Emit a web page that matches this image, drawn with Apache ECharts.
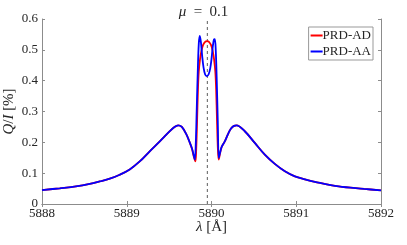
<!DOCTYPE html>
<html><head><meta charset="utf-8">
<script src="https://cdn.jsdelivr.net/npm/echarts@6/dist/echarts.min.js"></script>
<style>html,body{margin:0;padding:0;background:#fff}#c{width:407px;height:245px}</style>
</head><body><div id="c"></div>
<script>
var lineCenter = 5889.95;
var xTicks = [5888, 5889, 5890, 5891, 5892];
var yTicks = [0, 0.1, 0.2, 0.3, 0.4, 0.5, 0.6];

var lamAA = [5888.0,5888.209,5888.4,5888.563,5888.681,5888.8,5888.917,5889.035,5889.153,5889.271,5889.39,5889.508,5889.56,5889.606,5889.65,5889.705,5889.744,5889.77,5889.79,5889.803,5889.815,5889.825,5889.838,5889.85,5889.862,5889.875,5889.89,5889.905,5889.925,5889.945,5889.965,5889.985,5890.0,5890.015,5890.028,5890.039,5890.05,5890.062,5890.074,5890.086,5890.1,5890.12,5890.157,5890.23,5890.295,5890.393,5890.511,5890.629,5890.747,5890.866,5890.984,5891.102,5891.22,5891.5,5891.8,5892.0];
var valAA = [0.045,0.051,0.057,0.065,0.073,0.082,0.095,0.112,0.138,0.171,0.203,0.236,0.249,0.255,0.250,0.225,0.199,0.180,0.158,0.144,0.20,0.30,0.43,0.52,0.545,0.525,0.48,0.445,0.42,0.415,0.42,0.44,0.47,0.51,0.533,0.535,0.50,0.40,0.27,0.149,0.165,0.185,0.203,0.245,0.255,0.236,0.198,0.160,0.130,0.106,0.0895,0.080,0.072,0.057,0.049,0.044];

var lamAD = [5888.0,5888.209,5888.4,5888.563,5888.681,5888.8,5888.917,5889.035,5889.153,5889.271,5889.39,5889.508,5889.56,5889.606,5889.65,5889.705,5889.744,5889.77,5889.79,5889.81,5889.82,5889.83,5889.84,5889.85,5889.865,5889.88,5889.9,5889.925,5889.948,5889.97,5889.995,5890.015,5890.03,5890.045,5890.055,5890.065,5890.075,5890.085,5890.1,5890.12,5890.157,5890.23,5890.295,5890.393,5890.511,5890.629,5890.747,5890.866,5890.984,5891.102,5891.22,5891.5,5891.8,5892.0];
var valAD = [0.045,0.051,0.057,0.065,0.073,0.082,0.095,0.112,0.138,0.171,0.203,0.236,0.249,0.255,0.250,0.225,0.199,0.178,0.155,0.138,0.18,0.27,0.37,0.43,0.47,0.495,0.515,0.526,0.528,0.526,0.515,0.495,0.47,0.43,0.37,0.27,0.18,0.144,0.163,0.185,0.203,0.245,0.255,0.236,0.198,0.160,0.130,0.106,0.0895,0.080,0.072,0.057,0.049,0.044];

function pairs(a, b) { return a.map(function (x, i) { return [x, b[i]]; }); }

var font = 'Liberation Serif';
var axisCol = '#8c8c8c';
var txtCol = '#262626';
var chart = echarts.init(document.getElementById('c'));
var xCommon = {type:'value', min:5888, max:5892, interval:1,
  axisLine:{show:true,lineStyle:{color:axisCol,width:1}},
  axisTick:{show:true,inside:true,length:3,lineStyle:{color:axisCol}},
  splitLine:{show:false}};
var yCommon = {type:'value', min:0, max:0.6, interval:0.1,
  axisLine:{show:true,lineStyle:{color:axisCol,width:1}},
  axisTick:{show:true,inside:true,length:3,lineStyle:{color:axisCol}},
  splitLine:{show:false}};
chart.setOption({
  animation:false,
  backgroundColor:'#fff',
  title:{text:'{i|μ}  =  0.1', left:'center', top:0,
    textStyle:{fontFamily:font,fontSize:15,fontWeight:'normal',color:txtCol,
      rich:{i:{fontFamily:font,fontStyle:'italic',fontSize:15,color:txtCol}}}},
  grid:{left:42,right:26,top:19,bottom:41,containLabel:false,outerBoundsMode:'none'},
  legend:{data:['PRD-AD','PRD-AA'], orient:'vertical', right:34, top:27,
    icon:'rect', itemWidth:12, itemHeight:2, itemGap:3, padding:[2,2,2,2],
    backgroundColor:'#fff', borderColor:'#999', borderWidth:1, borderRadius:0,
    textStyle:{fontFamily:font,fontSize:13,color:txtCol,padding:[0,0,0,-5]}},
  xAxis:[Object.assign({}, xCommon, {position:'bottom',
      name:'{i|λ} [Å]', nameLocation:'middle', nameGap:16, nameMoveOverlap:false,
      nameTextStyle:{fontFamily:font,fontSize:15,color:txtCol,
        rich:{i:{fontFamily:font,fontStyle:'italic',fontSize:15,color:txtCol}}},
      axisLabel:{show:true,fontFamily:font,fontSize:13,color:txtCol,margin:3,
        formatter:function(v){return xTicks.indexOf(v)>=0?String(v):'';}}}),
    Object.assign({}, xCommon, {position:'top', axisLabel:{show:false}})],
  yAxis:[Object.assign({}, yCommon, {position:'left',
      name:'{i|Q}/{i|I} [%]', nameLocation:'middle', nameGap:25, nameRotate:90, nameMoveOverlap:false,
      nameTextStyle:{fontFamily:font,fontSize:15,color:txtCol,
        rich:{i:{fontFamily:font,fontStyle:'italic',fontSize:15,color:txtCol}}},
      axisLabel:{show:true,fontFamily:font,fontSize:13,color:txtCol,margin:4,
        formatter:function(v){var t=yTicks.filter(function(k){return Math.abs(k-v)<1e-9;});return t.length?(v===0?'0':v.toFixed(1)):'';}}}),
    Object.assign({}, yCommon, {position:'right', axisLabel:{show:false}})],
  series:[
    {name:'PRD-AD', type:'line', data:pairs(lamAD, valAD), showSymbol:false, smooth:0.35,
      lineStyle:{color:'#ff0000',width:1.8}, itemStyle:{color:'#ff0000'}, z:2},
    {name:'PRD-AA', type:'line', data:pairs(lamAA, valAA), showSymbol:false, smooth:0.35,
      lineStyle:{color:'#0000ff',width:1.8}, itemStyle:{color:'#0000ff'}, z:3},
    {name:'center', type:'line', data:[[lineCenter,0],[lineCenter,0.6]], showSymbol:false,
      lineStyle:{color:'#333',width:0.8,type:[3,3]}, z:1}
  ]
});
</script></body></html>
